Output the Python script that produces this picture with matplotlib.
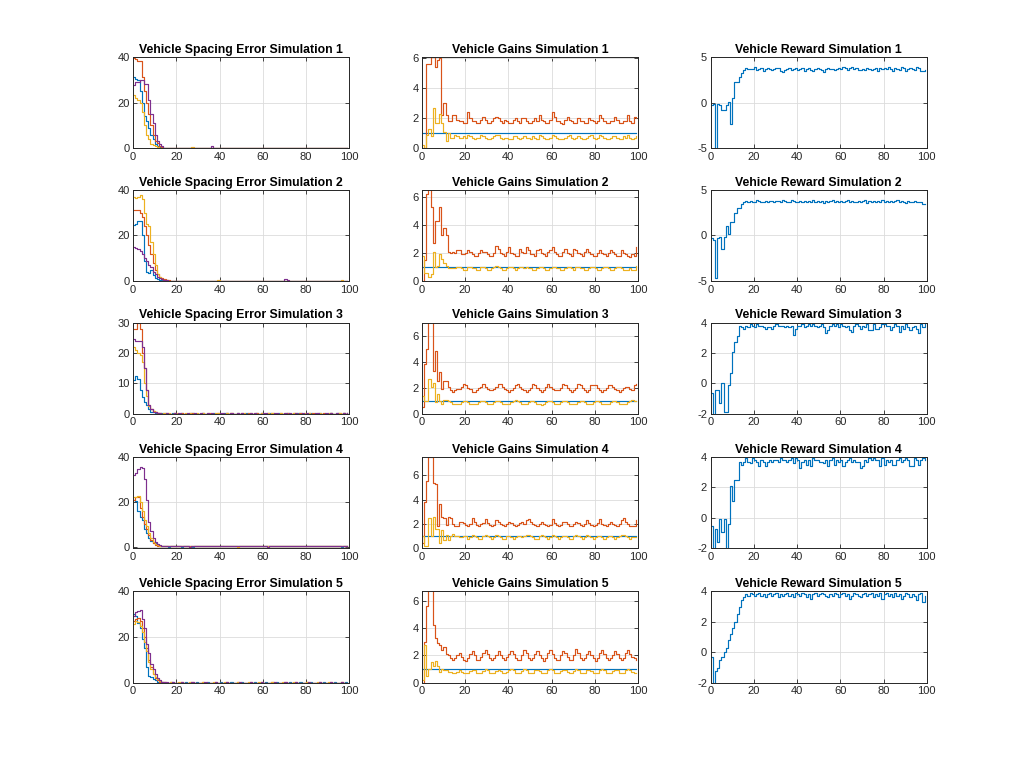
import numpy as np
import matplotlib
matplotlib.use("Agg")
import matplotlib.pyplot as plt

plt.rcParams['font.family'] = ['Liberation Sans', 'DejaVu Sans']
plt.rcParams['axes.unicode_minus'] = False

def v(s):
    return np.array(s.split(), dtype=float)

# ---------------- Spacing error data (vehicles: blue, orange, yellow, purple) ----------------
err_s1_v1 = v("31 30.5 30 25 20 14 12 9 6 4 2 1 0.5 0.3 0.2 0.1 0 0 0.1 0 0.2 0.1 0 0 0.1 0.2 0.1 0 0 0.1 0 0 0.2 0.1 0 0 0.1 0 0 0.1 0.2 0 0 0.1 0 0 0.1 0 0.2 0.1 0 0 0.1 0 0 0.1 0 0.2 0 0 0.1 0 0 0.1 0.2 0 0 0.1 0 0 0.1 0 0 0.2 0.1 0 0 0.1 0 0 0.1 0 0.2 0 0 0.1 0 0 0.1 0.2 0.3 0.1 0 0 0.1 0 0 0.1 0 0")
err_s1_v2 = v("39.5 39 38 38 31 25 20 15 10 6 3 2.5 1 0.5 0.3 0.1 0 0.1 0 0 0.1 0.2 0 0 0.1 0 0 0.2 0.1 0 0 0.1 0 0.1 0 0 0.2 0 0 0.1 0 0 0.1 0.2 0 0 0.1 0 0 0.1 0 0 0.2 0.1 0 0 0.1 0 0 0.2 0 0 0.1 0 0 0.1 0 0.2 0.1 0 0 0.1 0 0 0.1 0 0 0.2 0 0 0.1 0 0.1 0 0 0.2 0.1 0 0 0.1 0 0 0.1 0 0 0.2 0 0.1 0 0")
err_s1_v3 = v("23.5 22 21 20 16 10 6 4 2 1.5 1 0.5 0.3 0.2 0.1 0 0.1 0 0 0.2 0.1 0 0 0.1 0 0.2 0 0.6 0.3 0 0.1 0 0 0.2 0.1 0 0 0.1 0 0 0.2 0 0 0.1 0 0.1 0 0 0.2 0.1 0 0 0.1 0 0 0.1 0.2 0 0 0.1 0 0 0.1 0 0.2 0 0 0.1 0 0 0.1 0.2 0 0 0.1 0 0 0.1 0 0 0.2 0 0.1 0 0 0.1 0.2 0 0 0.1 0 0 0.1 0 0.2 0 0 0.1 0 0")
err_s1_v4 = v("27.5 29 29 30 30 28 28 21 15 11 6 3 2 1 0.3 0.1 0 0 0.1 0 0 0.1 0 0.2 0 0 0.1 0 0 0.1 0 0 0.1 0 0 0.2 0.8 0.2 0 0.1 0 0 0.1 0 0 0.2 0 0 0.1 0 0 0.1 0 0 0.2 0 0 0.1 0 0.1 0 0 0.2 0 0 0.1 0 0 0.1 0 0.2 0 0 0.1 0 0 0.1 0 0 0.2 0 0 0.1 0 0.1 0 0 0.2 0 0.1 0 0 0.1 0 0.2 0 0 0.1 0 0")

err_s2_v1 = v("24.5 25 26.5 26.5 20 9 4 3.5 5 2.5 1.5 0.8 0.5 0.4 0.3 0.2 0.1 0 0 0.1 0 0.2 0 0 0.1 0 0 0.1 0 0.2 0 0 0.1 0 0 0.1 0 0 0.2 0 0 0.1 0 0 0.1 0 0.2 0 0 0.1 0 0 0.1 0 0 0.2 0 0.1 0 0 0.1 0 0 0.2 0 0 0.1 0 0.1 0 0 0.2 0 0 0.1 0 0 0.1 0 0.2 0 0 0.1 0 0 0.1 0 0 0.2 0 0.1 0 0 0.1 0 0 0.2 0 0.1 0")
err_s2_v2 = v("31 31 31 30 28 24 20 16 12 8 5 3 2 1.5 1 0.5 0.3 0.2 0.1 0 0.1 0 0 0.2 0 0 0.1 0 0 0.1 0.2 0 0 0.1 0 0 0.1 0 0.2 0 0 0.1 0 0 0.1 0 0 0.2 0 0.1 0 0 0.1 0 0.2 0 0 0.1 0 0 0.1 0 0 0.2 0 0.1 0 0 0.1 0 0 0.2 0 0 0.1 0 0.1 0 0 0.2 0 0 0.1 0 0 0.1 0 0.2 0 0 0.1 0 0 0.1 0 0 0.2 0 0.1 0")
err_s2_v3 = v("37 36.5 37 37.5 36 30 25 24 17 12 7 3 2 1 0.5 0.3 0.2 0.1 0 0.1 0 0 0.2 0 0 0.1 0 0 0.1 0 0.2 0 0 0.1 0 0 0.1 0 0 0.3 0.2 0 0 0.1 0 0 0.1 0 0.2 0 0 0.1 0 0 0.1 0 0 0.2 0 0.1 0 0 0.1 0 0.2 0 0 0.1 0 0 0.1 0 0 0.2 0 0.1 0 0 0.1 0 0.2 0 0 0.1 0 0 0.1 0 0 0.2 0 0.1 0 0 0.1 0 0.3 0.2")
err_s2_v4 = v("15 14.5 14 13 12 10 9 7 6 4 3 2 1.5 1 0.5 0.3 0.2 0.1 0 0 0.1 0 0 0.2 0 0 0.1 0 0 0.1 0 0.2 0 0 0.1 0 0 0.1 0 0 0.2 0 0 0.1 0 0 0.1 0 0.2 0 0 0.1 0 0 0.1 0 0 0.2 0 0.1 0 0 0.1 0 0 0.2 0 0 0.1 0 0.8 0.5 0 0.1 0 0 0.2 0 0 0.1 0 0 0.1 0 0.2 0 0 0.1 0 0 0.1 0 0 0.2 0 0.1 0 0 0.1 0")

err_s3_v1 = v("11 12.5 11.5 8 5.5 4 3 1.5 0.8 0.5 0.3 0.2 0.1 0.3 0.2 0 0.1 0 0.2 0 0 0.1 0.3 0 0 0.1 0 0.2 0 0 0.1 0 0.3 0 0 0.1 0 0.2 0 0 0.1 0 0.3 0.2 0 0.1 0 0 0.2 0 0.1 0 0.3 0 0 0.1 0 0.2 0 0.3 0.1 0 0 0.2 0 0.1 0 0.3 0 0.1 0 0.2 0 0 0.1 0 0.3 0.2 0 0.1 0 0 0.2 0 0.1 0 0.3 0 0 0.1 0 0.2 0 0 0.3 0.1 0 0.2 0 0.3")
err_s3_v2 = v("28 28 30 28 20 15 8 3 1.5 1 0.5 0.3 0.2 0.1 0 0.2 0 0.1 0 0.3 0 0.1 0.2 0 0.1 0 0.3 0.2 0 0.1 0 0 0.2 0.1 0 0.3 0 0.1 0 0.2 0 0.1 0 0.3 0 0.2 0 0.1 0 0 0.3 0.1 0 0.2 0 0.1 0 0.3 0 0.2 0 0.1 0.3 0 0.2 0 0.1 0 0.3 0 0.1 0.2 0 0 0.3 0.1 0 0.2 0 0.1 0 0.3 0 0.2 0 0.1 0 0 0.3 0.1 0 0.2 0 0.1 0 0.3 0 0.2 0 0.4")
err_s3_v3 = v("22 21 20 19.5 17 10 6 2.5 1.5 1 0.5 0.3 0.2 0.1 0.2 0 0.3 0.1 0 0.2 0.3 0 0.1 0 0.2 0 0.3 0.1 0 0.2 0 0.1 0.3 0 0.2 0 0.1 0 0.3 0.2 0 0.1 0 0.2 0 0.3 0 0.1 0.2 0 0 0.3 0.1 0 0.2 0 0.3 0.1 0 0.2 0 0.1 0.3 0 0.2 0 0.1 0 0.3 0 0.2 0.1 0 0 0.3 0.2 0 0.1 0 0.3 0 0.2 0 0.1 0 0.3 0.2 0 0.1 0 0.2 0.3 0 0.1 0 0.2 0 0.3 0.1 0")
err_s3_v4 = v("24.5 24 24 24 22 15 8 3 1.5 0.8 0.5 0.3 0.2 0.1 0 0.2 0 0.1 0 0.2 0 0.3 0 0.1 0 0.2 0 0.1 0.3 0 0 0.2 0.1 0 0.3 0 0.2 0 0.1 0 0.3 0.2 0 0.1 0 0.2 0 0.1 0.3 0 0.2 0 0.1 0 0.3 0 0.2 0 0.1 0 0.3 0.2 0 0.1 0 0.2 0.3 0 0.1 0 0.2 0 0.3 0.1 0 0.2 0 0.1 0.3 0 0.2 0 0.1 0 0.3 0.2 0 0.1 0 0.2 0 0.3 0.1 0 0.2 0 0.1 0.3 0 0.2")

err_s4_v1 = v("21 20.5 16 13 12 8 6 4 2.5 1.5 1.8 0.5 0.3 0.2 0.1 0.3 0 0.2 0.4 0.1 0.3 0.2 0 0.3 0.4 0.2 0.3 0 0.2 0.4 0.3 0.1 0.3 0.2 0.4 0.2 0.3 0.1 0.4 0.3 0.2 0.3 0.4 0.1 0.3 0.2 0.4 0.3 0.2 0.3 0.1 0.4 0.3 0.2 0.3 0.4 0.2 0.1 0.3 0.4 0.2 0.3 0.1 0.4 0.3 0.2 0.3 0.4 0.2 0.3 0.1 0.4 0.3 0.2 0.3 0.4 0.2 0.3 0.1 0.4 0.3 0.2 0.3 0.4 0.1 0.3 0.2 0.4 0.3 0.2 0.3 0.1 0.4 0.3 0.2 0.3 -0.2 0.4 0.3 0.2")
err_s4_v2 = v("21 22 22 17 13 10 8 5 3 1.5 0.5 0.3 0.2 0.3 0.1 0.4 0.2 0.3 0.1 0.4 0.3 0.2 0.4 0.1 0.3 0.2 0.4 0.3 0.1 0.4 0.2 0.3 0.4 0.2 0.1 0.3 0.4 0.2 0.3 0.1 0.4 0.3 0.2 0.4 0.1 0.3 0.2 0.4 0.3 0.2 0.1 0.4 0.3 0.2 0.4 0.3 0.1 0.2 0.4 0.3 0.2 0.1 0.4 0.3 0.2 0.4 0.1 0.3 0.2 0.4 0.3 0.1 0.2 0.4 0.3 0.2 0.4 0.1 0.3 0.2 0.4 0.3 0.1 0.2 0.4 0.3 0.2 0.4 0.1 0.3 0.2 0.4 0.3 0.2 0.1 0.4 0.3 0.2 0.4 0.3")
err_s4_v3 = v("22 22 22.5 20 16 12 9 6 4 2 1 0.5 0.3 0.2 0.4 0.1 0.3 0.2 0.4 0.3 0.1 0.2 0.4 0.3 0.1 0.4 -0.3 0.3 0.2 0.4 0.1 0.3 0.2 0.4 0.3 0.1 0.4 0.2 0.3 0.1 0.4 0.3 0.2 0.4 0.1 0.3 0.2 0.4 -0.3 0.2 0.3 0.1 0.4 0.2 0.3 0.4 0.1 0.3 0.2 0.4 0.3 0.1 0.2 0.4 0.3 0.2 0.4 0.1 0.3 0.2 0.4 0.3 0.1 0.2 0.4 0.3 0.2 0.4 0.1 0.3 0.2 0.4 0.3 0.1 0.2 0.4 0.3 0.2 0.4 0.1 0.3 0.2 0.4 0.3 0.2 0.1 0.4 0.3 0.2 0.4")
err_s4_v4 = v("32 33 34.5 35.5 35 30 21 11 7 4 2 1 0.5 0.3 0.2 0.3 0.1 0.3 0.2 0.4 0.3 0.2 0.3 0.1 0.4 0.3 -0.2 0.3 0.2 0.4 0.3 0.1 0.3 0.2 0.4 0.3 0.2 0.3 0.1 0.4 0.3 0.2 0.3 0.4 0.1 0.3 0.2 0.4 0.3 0.2 0.3 0.1 0.4 0.3 0.2 0.3 0.4 0.1 0.3 0.2 0.4 0.3 -0.2 0.2 0.3 0.1 0.4 0.3 0.2 0.3 0.4 0.1 0.3 0.2 0.4 0.3 0.2 0.3 0.1 0.4 0.3 0.2 0.3 0.4 0.1 0.3 0.2 0.4 0.3 0.2 0.3 0.1 0.4 0.3 0.2 0.3 0.4 0.1 0.3 0.2")

err_s5_v1 = v("30 29 26 24 19 15 7 3 2.5 1.5 1 0.5 0.3 0.2 0.1 0 0.1 0 0.2 0 0 0.1 0 0 0.2 0 0.1 0 0 0.2 0 0 0.1 0 0.2 0 0 0.1 0 0 0.2 0 0.1 0 0 0.2 0 0 0.1 0 0.2 0 0 0.1 0 0 0.2 0 0.1 0 0 0.2 0 0 0.1 0 0.2 0 0 0.1 0 0 0.2 0 0.1 0 0 0.2 0 0 0.1 0 0.2 0 0 0.1 0 0 0.2 0 0.1 0 0 0.2 0 0 0.1 0 0.2 0")
err_s5_v2 = v("27 28 28.5 27 24 20 15 10 7 4 2 1 0.5 0.3 0.2 0.1 0 0.2 0 0.1 0 0 0.2 0 0.1 0 0 0.2 0 0 0.1 0 0.2 0 0 0.1 0 0 0.2 0 0.1 0 0 0.2 0 0 0.1 0 0.2 0 0 0.1 0 0 0.2 0 0.1 0 0 0.2 0 0 0.1 0 0.2 0 0 0.1 0 0 0.2 0 0.1 0 0 0.2 0 0 0.1 0 0.2 0 0 0.1 0 0 0.2 0 0.1 0 0 0.2 0 0 0.1 0 0.2 0 0.1 0")
err_s5_v3 = v("25.5 27 26.5 25 22 18 14 9 6 4 2.5 1.5 0.8 0.4 0.2 0.1 0 0.2 0 0.1 0 0.2 0 0 0.1 0 0.2 0 0 0.1 0 0 0.2 0 0.1 0 0 0.2 0 0 0.1 0 0.2 0 0 0.1 0 0 0.2 0 0.1 0 0 0.2 0 0 0.1 0 0.2 0 0 0.1 0 0 0.2 0 0.1 0 0 0.2 0 0 0.1 0 0.2 0 0 0.1 0 0 0.2 0 0.1 0 0 0.2 0 0 0.1 0 0.2 0 0 0.1 0 0 0.2 0 0.1 0")
err_s5_v4 = v("29 31 31.5 32 28 24 17 13 8 6 4 2 1 0.5 0.3 0.2 0.1 0 0.2 0 0.1 0 0.2 0 0 0.1 0 0.2 0 0 0.1 0 0 0.2 0 0.1 0 0 0.2 0 0 0.1 0 0.2 0 0 0.1 0 0 0.2 0 0.1 0 0 0.2 0 0 0.1 0 0.2 0 0 0.1 0 0 0.2 0 0.1 0 0 0.2 0 0 0.1 0 0.2 0 0 0.1 0 0 0.2 0 0.1 0 0 0.2 0 0 0.1 0 0.2 0 0 0.1 0 0.2 0.1 0")

# ---------------- Gains data (reference gain, kp-like gain, kd-like gain) ----------------
gain_ref = [1.0] * 100
gain_p_s1 = v("0 0 5.6 5.6 6.1 6.1 5.4 5.9 6.0 2.2 3.0 2.2 1.8 1.8 2.2 2.2 1.9 1.8 1.8 1.7 1.7 2.4 2.0 1.8 1.8 1.7 1.7 1.9 2.1 1.9 1.7 1.7 1.8 2.0 2.1 2.0 1.8 1.7 1.9 1.8 1.7 1.7 1.9 2.0 1.8 1.7 2.0 2.0 1.8 1.7 1.7 1.8 2.0 1.8 2.2 1.9 1.8 1.7 1.7 1.9 2.4 2.1 1.8 1.8 1.7 1.6 1.9 2.1 1.9 1.8 1.7 1.7 2.0 1.8 1.8 1.7 1.7 2.0 1.9 1.8 1.7 1.8 2.2 2.0 1.8 1.7 1.7 1.8 1.8 2.1 1.9 1.7 1.7 1.8 1.8 2.2 1.8 1.7 2.1 2.0")
gain_d_s1 = v("0.2 0.0 0.9 1.3 0.8 2.7 1.7 1.7 2.3 1.7 1.1 0.5 1.0 0.7 0.7 0.9 0.8 0.7 0.7 0.8 0.7 0.9 0.8 0.7 0.6 0.7 0.7 0.9 0.8 0.7 0.6 0.6 0.7 0.8 0.9 0.9 0.7 0.6 0.7 0.7 0.6 0.6 0.8 0.8 0.7 0.6 0.7 0.8 0.7 0.7 0.6 0.8 0.7 0.6 0.9 0.8 0.7 0.6 0.6 0.7 0.9 0.8 0.7 0.6 0.6 0.6 0.7 0.8 0.9 0.7 0.6 0.7 0.8 0.7 0.6 0.6 0.7 0.8 0.9 0.7 0.6 0.7 0.9 0.8 0.7 0.6 0.6 0.7 0.8 0.8 0.7 0.6 0.6 0.8 0.7 0.9 0.7 0.6 0.7 0.8")
gain_p_s2 = v("0 1.5 6.2 6.6 5.3 2.7 4.3 4.3 5.3 3.3 3.8 3.3 2.1 2.0 2.1 2.0 2.2 2.2 1.9 1.9 2.0 2.2 2.1 1.9 1.8 1.8 2.0 2.2 2.1 2.1 1.9 1.8 1.8 2.0 2.5 2.3 2.0 1.9 1.8 2.1 2.4 2.0 1.9 1.8 1.8 2.3 2.1 2.0 2.4 2.2 1.9 1.9 1.8 2.2 2.3 2.0 1.9 1.8 2.1 2.2 2.4 2.1 1.9 1.8 1.8 2.1 2.3 2.0 1.9 1.8 2.3 2.2 2.0 1.9 1.8 2.1 2.3 2.1 1.9 1.8 1.8 2.0 2.2 2.0 1.9 1.8 2.0 2.2 2.1 1.9 1.8 1.8 2.2 2.0 1.9 1.8 1.7 1.9 1.8 2.4")
gain_d_s2 = v("1.8 0.6 0.6 0.3 0.5 2.1 1.0 1.1 1.9 1.6 1.3 1.1 0.9 0.9 0.9 0.9 1.0 1.0 0.9 0.8 0.8 1.0 1.0 0.9 0.9 0.8 0.8 1.0 1.0 0.9 0.8 0.8 0.9 1.0 1.1 1.0 0.9 0.8 0.8 0.9 1.0 1.0 0.9 0.8 0.9 1.0 1.0 0.9 1.0 0.9 0.9 0.8 0.8 0.9 1.0 1.0 0.9 0.8 0.8 0.9 1.0 1.0 0.9 0.9 0.8 0.8 0.9 1.0 1.0 0.9 0.8 1.0 1.0 0.9 0.9 0.8 0.8 0.9 1.0 1.0 0.9 0.8 0.8 0.9 1.0 1.0 0.9 0.8 0.8 0.9 1.0 1.0 0.9 0.8 0.8 0.8 0.9 0.8 0.8 1.1")
gain_p_s3 = v("0.5 3.8 5.0 7.2 7.2 3.3 4.8 2.5 3.2 1.9 2.5 2.5 2.1 1.8 1.7 1.8 1.9 1.9 2.1 2.3 2.2 2.0 1.9 1.7 1.7 1.8 2.0 2.1 2.3 2.1 1.9 1.8 1.8 1.9 2.1 2.3 2.3 2.1 1.9 1.8 1.7 1.8 2.0 2.2 2.3 2.1 1.9 1.8 1.7 1.8 2.0 2.3 2.2 2.0 1.8 1.7 1.8 2.1 2.3 2.1 1.9 1.8 1.8 1.8 2.0 2.3 2.2 2.0 1.8 1.7 1.8 2.0 2.3 2.2 2.0 1.8 1.7 1.8 2.2 2.2 2.2 2.0 1.8 1.7 1.8 2.0 2.2 2.2 2.1 1.9 1.8 1.7 1.8 2.0 2.1 2.1 1.9 1.8 2.2 2.3")
gain_d_s3 = v("1.4 1.0 1.0 2.7 2.1 2.4 0.9 1.5 1.0 0.8 1.1 1.1 1.0 0.9 0.8 0.75 0.75 0.8 0.9 1.0 1.0 0.9 0.8 0.75 0.75 0.8 0.9 1.0 1.0 0.9 0.8 0.75 0.8 0.9 1.0 1.0 0.9 0.8 0.75 0.75 0.8 0.9 1.0 1.05 1.0 0.9 0.8 0.75 0.8 0.9 1.0 1.0 0.9 0.8 0.75 0.7 0.8 0.9 1.0 1.0 0.9 0.8 0.75 0.8 0.9 1.0 1.0 0.9 0.8 0.75 0.75 0.8 0.9 1.0 1.0 0.9 0.8 0.75 0.8 0.9 1.0 1.0 0.9 0.8 0.75 0.75 0.8 0.9 1.0 1.0 0.9 0.8 0.75 0.75 0.8 0.9 1.0 1.05 1.0 1.0")
gain_p_s4 = v("0.4 3.8 5.5 7.5 7.5 5.4 5.3 1.8 3.6 2.6 2.5 1.9 2.6 2.5 2.0 1.8 1.8 2.2 2.2 2.1 1.9 1.8 2.0 2.5 2.2 1.9 1.8 2.0 2.1 2.4 2.1 1.9 1.8 1.9 2.3 2.2 2.0 1.9 1.8 2.0 2.2 2.1 1.9 1.8 1.9 2.1 2.2 2.0 2.3 2.4 2.2 2.0 1.9 1.8 2.0 2.2 2.0 1.9 1.8 1.9 2.4 2.1 1.9 1.8 1.9 2.2 2.2 2.0 1.8 1.8 2.0 2.2 2.1 1.9 1.8 2.0 2.3 2.1 1.9 1.8 1.9 2.1 2.4 2.0 1.9 1.8 2.0 2.2 2.0 1.9 1.8 2.0 2.3 2.5 2.2 2.0 1.8 1.8 1.8 2.3")
gain_d_s4 = v("1.0 0.2 0.2 2.5 1.0 2.6 1.6 1.6 0.4 1.5 0.7 1.1 0.7 1.0 1.2 1.0 1.0 0.9 0.9 1.0 1.0 0.8 0.9 1.1 1.0 0.9 0.8 0.8 1.0 1.1 1.0 0.9 0.8 0.9 1.1 1.0 0.9 0.8 0.8 1.0 1.0 0.9 0.8 0.9 1.0 1.0 0.9 1.0 1.1 1.1 1.0 0.9 0.8 0.8 1.0 1.1 1.0 0.9 0.8 0.9 1.1 1.0 0.9 0.8 0.9 1.0 1.0 0.9 0.8 0.8 1.0 1.1 1.0 0.9 0.8 0.9 1.1 1.0 0.9 0.8 0.9 1.0 1.0 0.9 0.8 0.9 1.0 1.0 0.9 0.8 0.9 1.0 1.1 1.1 1.0 0.9 0.8 0.9 0.9 0.9")
gain_p_s5 = v("0 3.0 5.6 6.8 6.8 4.2 3.3 2.9 2.8 2.4 2.6 2.1 2.0 1.8 1.7 1.8 2.0 2.2 1.9 1.7 1.6 1.8 2.1 2.3 2.0 1.7 1.7 1.9 2.2 2.4 2.1 1.8 1.7 1.8 2.0 2.3 2.0 1.8 1.7 1.9 2.1 2.3 2.1 1.8 1.7 1.7 2.0 2.4 2.2 1.8 1.7 1.8 2.1 2.3 2.0 1.8 1.6 1.8 2.2 2.4 2.1 1.8 1.7 1.7 2.0 2.3 2.2 1.9 1.7 1.7 2.0 2.5 2.2 1.8 1.7 1.8 2.1 2.3 2.0 1.8 1.6 1.8 2.2 2.4 2.1 1.8 1.7 1.8 2.0 2.3 2.1 1.8 1.7 1.8 2.2 2.4 2.1 1.9 1.8 1.7")
gain_d_s5 = v("0.2 2.8 0.5 1.0 1.5 1.2 1.6 1.2 0.8 1.0 0.9 0.9 0.8 0.8 0.7 0.75 0.8 0.9 0.8 0.7 0.7 0.75 0.85 0.95 0.9 0.75 0.7 0.75 0.85 1.0 0.9 0.75 0.7 0.75 0.85 0.95 0.85 0.75 0.7 0.8 0.9 1.0 0.9 0.75 0.7 0.7 0.85 1.0 0.9 0.75 0.7 0.75 0.9 0.95 0.85 0.75 0.7 0.75 0.9 1.0 0.9 0.75 0.7 0.7 0.85 0.95 0.9 0.8 0.7 0.7 0.85 1.0 0.9 0.75 0.7 0.75 0.9 0.95 0.85 0.75 0.7 0.75 0.9 1.0 0.9 0.75 0.7 0.75 0.85 0.95 0.9 0.75 0.7 0.75 0.9 1.0 0.9 0.8 0.75 0.7")

# ---------------- Reward data ----------------
reward_s1 = v("-0.3 -0.2 -5.5 -0.2 -0.3 -0.8 -0.8 -0.3 0.1 -2.3 0.5 2.3 2.3 2.8 3.2 3.6 3.8 3.7 3.7 3.7 3.9 3.6 3.7 3.8 3.5 3.7 3.8 3.7 3.6 3.7 3.8 3.8 3.5 3.3 3.6 3.7 3.8 3.6 3.7 3.8 3.6 3.7 3.8 3.4 3.7 3.8 3.6 3.4 3.7 3.8 3.7 3.6 3.3 3.7 3.8 3.7 3.7 3.6 3.7 3.8 3.7 3.9 3.8 3.6 3.8 3.9 3.7 3.8 3.6 3.6 3.7 3.6 3.8 3.7 3.6 3.7 3.8 3.5 3.8 3.7 3.8 3.7 3.9 3.7 3.4 3.8 3.7 3.6 3.9 3.8 3.5 3.7 3.8 3.7 3.6 3.9 3.8 3.4 3.4 3.6")
reward_s2 = v("-0.3 -0.5 -4.7 -0.3 -0.2 -1.5 -0.2 1.0 0.2 1.5 1.5 2.5 3.0 3.0 3.4 3.6 3.8 3.7 3.8 3.7 3.7 3.9 3.8 3.7 3.7 3.8 3.6 3.8 3.8 3.7 3.8 3.8 3.7 3.9 3.8 3.7 3.7 3.9 3.8 3.7 3.7 3.8 3.6 3.8 3.7 3.8 3.6 3.9 3.7 3.8 3.7 3.8 3.5 3.8 3.7 3.8 3.9 3.7 3.8 3.7 3.8 3.6 3.8 3.9 3.7 3.8 3.7 3.6 3.8 3.7 3.8 3.9 3.5 3.8 3.7 3.8 3.6 3.8 3.7 3.9 3.7 3.8 3.6 3.8 3.7 3.8 3.9 3.6 3.8 3.7 3.5 3.8 3.7 3.6 3.8 3.7 3.7 3.6 3.4 3.4")
reward_s3 = v("-0.6 -2.3 -0.4 -0.4 -1.3 0 -1.9 -1.9 -0.1 0.7 2.1 2.7 3.1 3.8 3.7 3.6 3.8 3.7 3.9 3.8 3.7 3.9 3.8 3.8 3.7 3.6 3.7 3.7 3.6 3.8 3.9 3.8 3.8 3.8 3.7 3.8 3.7 3.8 3.2 3.6 3.8 3.8 3.9 3.7 3.8 3.9 3.8 3.9 3.8 3.7 3.8 3.9 3.7 3.3 3.5 3.8 3.9 3.8 3.9 3.7 3.9 3.8 3.7 3.8 3.5 3.4 3.8 3.9 3.8 3.6 3.8 3.7 3.9 3.5 3.5 3.9 3.6 3.6 3.7 3.9 3.9 3.8 3.8 3.5 3.7 3.9 3.8 3.4 3.8 3.6 3.9 3.7 3.5 3.7 3.8 3.6 3.3 3.9 3.7 3.9")
reward_s4 = v("-0.5 -2.2 -0.7 -1.6 -0.1 -0.9 -0.1 -2.2 -0.4 2.1 1.1 2.5 2.5 3.7 3.5 3.7 3.9 3.7 3.6 3.9 3.8 3.7 3.4 3.8 3.7 3.4 3.7 3.8 3.7 3.8 3.8 3.7 3.9 3.8 3.8 3.7 3.8 3.9 3.6 3.9 3.8 3.3 3.7 3.8 3.5 3.8 3.4 3.9 3.8 3.8 3.7 3.7 3.6 3.8 3.4 3.8 3.9 3.5 3.8 3.7 3.8 3.4 3.7 3.8 3.9 3.7 3.8 3.7 3.7 3.3 3.4 3.8 3.7 3.9 3.8 3.9 3.8 3.8 3.4 3.9 3.5 3.8 3.7 3.8 3.5 3.5 3.8 3.9 3.7 3.8 3.9 3.8 3.4 3.4 3.9 3.8 3.5 3.8 3.9 3.8")
reward_s5 = v("-0.3 -2.2 -1.2 -1.0 -0.5 -0.3 0.0 0.3 0.8 1.2 1.6 2.0 2.5 3.0 3.4 3.6 3.8 3.7 3.9 3.8 3.7 3.8 3.9 3.7 3.8 3.6 3.8 3.9 3.7 3.8 3.9 3.6 3.8 3.7 3.8 3.9 3.7 3.8 3.6 3.9 3.8 3.7 3.9 3.8 3.6 3.8 3.5 3.8 3.9 3.7 3.8 3.9 3.8 3.7 3.6 3.8 3.7 3.9 3.8 3.6 3.8 3.9 3.7 3.8 3.5 3.7 3.9 3.8 3.7 3.6 3.8 3.9 3.7 3.8 3.9 3.6 3.8 3.7 3.9 3.5 3.8 3.9 3.7 3.8 3.6 3.9 3.7 3.8 3.5 3.7 3.9 3.8 3.6 3.8 3.7 3.4 3.8 3.9 3.3 3.7")

sim_labels = ["1", "2", "3", "4", "5"]
spacing = [
    [err_s1_v1, err_s1_v2, err_s1_v3, err_s1_v4],
    [err_s2_v1, err_s2_v2, err_s2_v3, err_s2_v4],
    [err_s3_v1, err_s3_v2, err_s3_v3, err_s3_v4],
    [err_s4_v1, err_s4_v2, err_s4_v3, err_s4_v4],
    [err_s5_v1, err_s5_v2, err_s5_v3, err_s5_v4],
]
gains = [
    [gain_ref, gain_p_s1, gain_d_s1],
    [gain_ref, gain_p_s2, gain_d_s2],
    [gain_ref, gain_p_s3, gain_d_s3],
    [gain_ref, gain_p_s4, gain_d_s4],
    [gain_ref, gain_p_s5, gain_d_s5],
]
rewards = [reward_s1, reward_s2, reward_s3, reward_s4, reward_s5]

spacing_ylim = [(0, 40), (0, 40), (0, 30), (-0.8, 40), (0, 40)]
spacing_yticks = [[0, 20, 40], [0, 20, 40], [0, 10, 20, 30], [0, 20, 40], [0, 20, 40]]
gains_ylim = [(0, 6.1), (0, 6.5), (0, 7.0), (0, 7.5), (0, 6.7)]
gains_yticks = [[0, 2, 4, 6]] * 5
reward_ylim = [(-5, 5), (-5, 5), (-2, 4), (-2, 4), (-2, 4)]
reward_yticks = [[-5, 0, 5], [-5, 0, 5], [-2, 0, 2, 4], [-2, 0, 2, 4], [-2, 0, 2, 4]]

colors = ['#0072BD', '#D95319', '#EDB120', '#7E2F8E']

fig = plt.figure(figsize=(10.24, 7.68), dpi=100)
fig.patch.set_facecolor('white')

col_left = [0.130, 0.412, 0.694]
col_w = 0.211
row_bottom = [0.807, 0.634, 0.461, 0.286, 0.111]
row_h = 0.119

def style(ax, title, ylim, yticks):
    ax.set_xlim(0, 100)
    ax.set_ylim(*ylim)
    ax.set_xticks([0, 20, 40, 60, 80, 100])
    ax.set_yticks(yticks)
    ax.grid(True, color='#dcdcdc', linewidth=0.6)
    ax.set_axisbelow(True)
    ax.tick_params(direction='in', top=True, right=True, length=3, width=0.6,
                   labelsize=8, colors='#262626', pad=2.5)
    for sp in ax.spines.values():
        sp.set_linewidth(0.7)
        sp.set_color('#262626')
    ax.set_title(title, fontsize=8.8, fontweight='bold', pad=3, color='black')

LW = 0.85
for i in range(5):
    b = row_bottom[i]
    ax = fig.add_axes([col_left[0], b, col_w, row_h])
    for k, y in enumerate(spacing[i]):
        ax.plot(np.arange(len(y)), y, drawstyle='steps-post', color=colors[k], lw=LW)
    style(ax, "Vehicle Spacing Error Simulation " + sim_labels[i], spacing_ylim[i], spacing_yticks[i])

    ax = fig.add_axes([col_left[1], b, col_w, row_h])
    for k, y in enumerate(gains[i]):
        y = np.asarray(y)
        ax.plot(np.arange(len(y)), y, drawstyle='steps-post', color=colors[k], lw=LW)
    style(ax, "Vehicle Gains Simulation " + sim_labels[i], gains_ylim[i], gains_yticks[i])

    ax = fig.add_axes([col_left[2], b, col_w, row_h])
    y = rewards[i]
    ax.plot(np.arange(len(y)), y, drawstyle='steps-post', color=colors[0], lw=LW)
    style(ax, "Vehicle Reward Simulation " + sim_labels[i], reward_ylim[i], reward_yticks[i])

fig.savefig("out.png", dpi=100, facecolor='white')
